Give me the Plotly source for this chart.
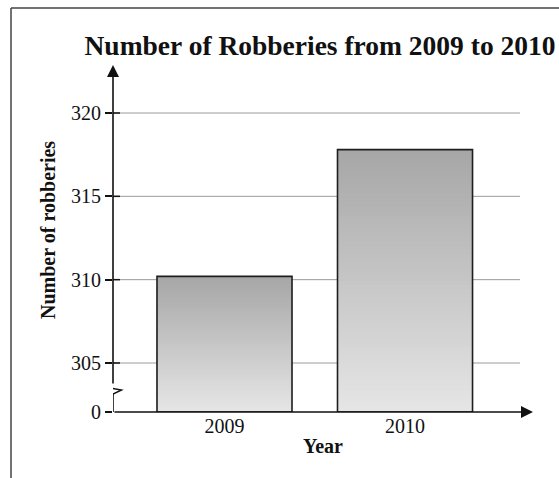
import numpy as np
import plotly.graph_objects as go

# ---------------- data ----------------
years = ["2009", "2010"]
robberies = [310.2, 317.8]
y_tick_values = [305, 310, 315, 320]
y_tick_labels = ["305", "310", "315", "320"]
zero_label = "0"
chart_title = "Number of Robberies from 2009 to 2010"
x_title = "Year"
y_title = "Number of robberies"

# ---------------- layout geometry ----------------
W, H = 559, 478
M_L, M_R, M_T, M_B = 113, 26, 65, 66
PW, PH = W - M_L - M_R, H - M_T - M_B
Y_FLOOR = 302.06          # broken-axis floor (labelled 0)
Y_TOP = 322.88
X_MIN, X_MAX = -0.6177, 1.709
GRID_END = 1.637
BAR_WIDTH = 0.748
N_SEG = 60
TOP_RGB = np.array([166, 166, 166])
BOT_RGB = np.array([230, 230, 230])
SERIF = "Liberation Serif, Times New Roman, serif"

xpos = list(range(len(years)))

# gradient bars built from the data values: nested bars from the floor,
# tallest (darkest) first, shorter (lighter) ones drawn on top
seg_x, seg_base, seg_len, seg_col = [], [], [], []
for k in range(N_SEG - 1, -1, -1):
    t = (k + 0.5) / N_SEG
    c = BOT_RGB + (TOP_RGB - BOT_RGB) * t
    for i, v in enumerate(robberies):
        h = (v - Y_FLOOR) / N_SEG
        seg_x.append(xpos[i])
        seg_base.append(Y_FLOOR)
        seg_len.append(h * (k + 1))
        seg_col.append(f"rgb({c[0]:.0f},{c[1]:.0f},{c[2]:.0f})")

fig = go.Figure()
fig.add_trace(go.Bar(
    x=seg_x, y=seg_len, base=seg_base, width=BAR_WIDTH,
    marker=dict(color=seg_col, line=dict(width=0)),
    hoverinfo="skip", showlegend=False,
))
fig.add_trace(go.Bar(
    x=xpos, y=[v - Y_FLOOR for v in robberies], base=Y_FLOOR, width=BAR_WIDTH,
    marker=dict(color="rgba(0,0,0,0)", line=dict(color="#1e1e1e", width=1.6)),
    customdata=robberies, hovertemplate="%{customdata}<extra></extra>",
    showlegend=False,
))

shapes = []
# gridlines
for v in y_tick_values:
    shapes.append(dict(type="line", xref="x", yref="y", x0=X_MIN, x1=GRID_END,
                       y0=v, y1=v, layer="below",
                       line=dict(color="#9a9a9a", width=1)))
    # inner part of the tick mark crossing the axis
    shapes.append(dict(type="line", xref="x", yref="y", xsizemode="pixel",
                       xanchor=X_MIN, x0=0, x1=7, y0=v, y1=v,
                       line=dict(color="#111", width=1.5)))
# lower piece of y axis (below the break)
shapes.append(dict(type="line", xref="x", yref="y", ysizemode="pixel",
                   yanchor=Y_FLOOR, x0=X_MIN, x1=X_MIN, y0=0, y1=18,
                   line=dict(color="#111", width=1.6)))
# break zigzag
shapes.append(dict(type="path", xref="x", yref="y", xsizemode="pixel",
                   ysizemode="pixel", xanchor=X_MIN, yanchor=Y_FLOOR,
                   path="M0,27 L-8,25 L8.5,22 L0,18",
                   line=dict(color="#111", width=1.4)))
# frame
fx = (11 - M_L) / PW
fy = (H - M_B - 8) / PH
shapes.append(dict(type="line", xref="paper", yref="paper",
                   x0=fx, x1=fx, y0=fy, y1=(H - M_B - 480) / PH,
                   line=dict(color="#444", width=1.5)))
shapes.append(dict(type="line", xref="paper", yref="paper",
                   x0=fx, x1=(W + 2 - M_L) / PW, y0=fy, y1=fy,
                   line=dict(color="#444", width=1.5)))

annotations = [
    # y axis with arrow (above the break)
    dict(x=X_MIN, y=Y_TOP, xref="x", yref="y", ax=X_MIN, ay=Y_FLOOR + 27 / 16.667,
         axref="x", ayref="y", text="", showarrow=True, arrowhead=2,
         arrowsize=1.5, arrowwidth=1.6, arrowcolor="#111", standoff=0),
    # x axis with arrow
    dict(x=X_MAX, y=Y_FLOOR, xref="x", yref="y", ax=X_MIN, ay=Y_FLOOR,
         axref="x", ayref="y", text="", showarrow=True, arrowhead=2,
         arrowsize=1.5, arrowwidth=1.6, arrowcolor="#111", standoff=0),
    # y axis title
    dict(x=(48 - M_L) / PW, y=(H - M_B - 230) / PH, xref="paper", yref="paper",
         text=f"<b>{y_title}</b>", textangle=-90, showarrow=False,
         xanchor="center", yanchor="middle",
         font=dict(family=SERIF, size=20, color="#111")),
]

fig.update_layout(
    width=W, height=H,
    margin=dict(l=M_L, r=M_R, t=M_T, b=M_B, pad=0),
    paper_bgcolor="white", plot_bgcolor="white",
    barmode="overlay",
    font=dict(family=SERIF, color="#111"),
    title=dict(text=f"<b>{chart_title}</b>", x=(320 - M_L) / PW,
               xref="paper", xanchor="center", y=1 - 45 / H, yref="container",
               yanchor="middle", font=dict(family=SERIF, size=27.5, color="#111")),
    xaxis=dict(range=[X_MIN, X_MAX], tickvals=xpos, ticktext=years,
               showgrid=False, zeroline=False, showline=False, ticks="",
               tickfont=dict(family=SERIF, size=20, color="#111"),
               title=dict(text=f"<b>{x_title}</b>", standoff=2,
                          font=dict(family=SERIF, size=20, color="#111"))),
    yaxis=dict(range=[Y_FLOOR, Y_TOP], tickvals=[Y_FLOOR] + y_tick_values,
               ticktext=[zero_label] + y_tick_labels,
               showgrid=False, zeroline=False, showline=False,
               ticks="outside", ticklen=7, tickwidth=1.5, tickcolor="#111",
               tickfont=dict(family=SERIF, size=20, color="#111")),
    shapes=shapes, annotations=annotations,
)

fig.write_html("out.html")
